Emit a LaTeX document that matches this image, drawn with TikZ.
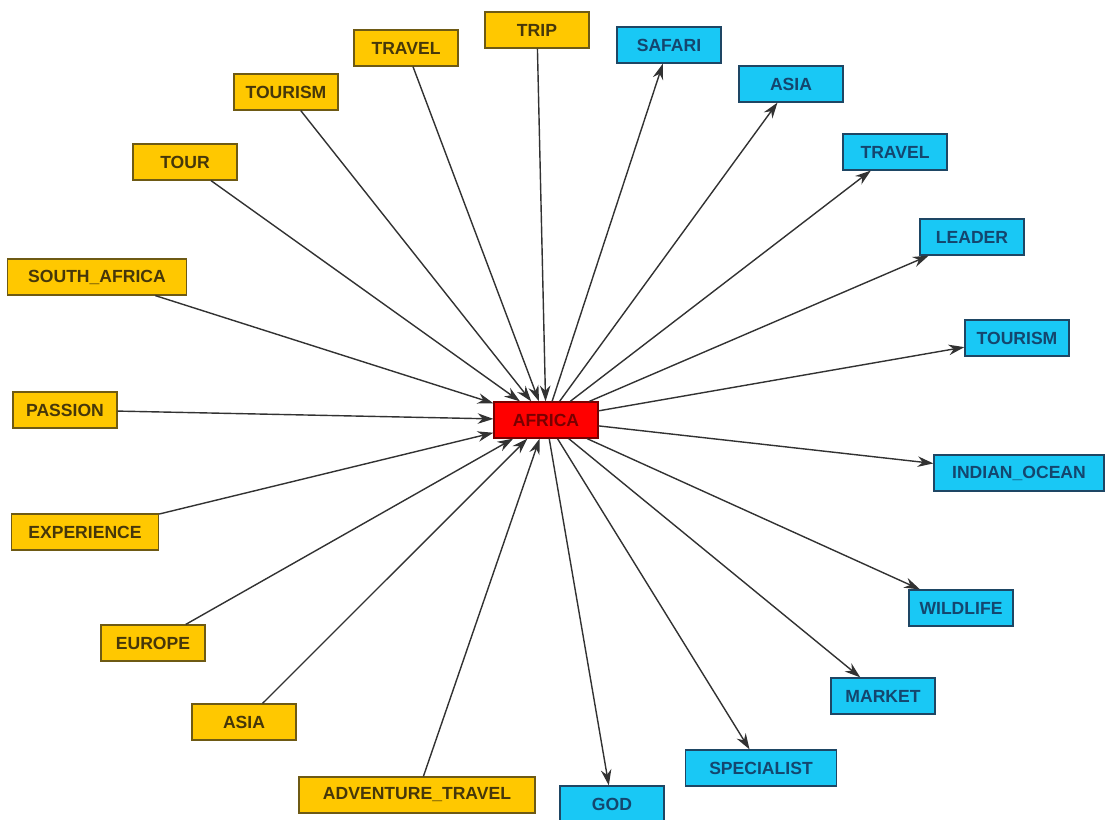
\documentclass[tikz,border=0pt]{standalone}
\usepackage{fontspec}
\setmainfont{Liberation Sans}
\usetikzlibrary{arrows,arrows.meta}

\definecolor{ygold}{RGB}{255,200,0}
\definecolor{yedge}{RGB}{110,90,20}
\definecolor{ytext}{RGB}{70,55,10}
\definecolor{bsky}{RGB}{25,200,245}
\definecolor{bedge}{RGB}{30,70,100}
\definecolor{btext}{RGB}{20,70,110}
\definecolor{rtext}{RGB}{120,0,0}
\definecolor{lgray}{RGB}{50,50,50}

\begin{document}
\begin{tikzpicture}[x=0.02cm, y=-0.02cm,
  box/.style={rectangle, draw, line width=0.7pt, minimum width=2.08cm, minimum height=0.72cm,
    inner xsep=0.2cm, font=\fontsize{10}{12}\selectfont\bfseries},
  from/.style={box, fill=ygold, draw=yedge, text=ytext},
  to/.style={box, fill=bsky, draw=bedge, text=btext},
  hub/.style={box, fill=red, draw=rtext, text=rtext},
  link/.style={draw=lgray, line width=0.8pt, -{Stealth[length=9pt,width=6pt]}}]

  \useasboundingbox (0,0) rectangle (1105,820);

  % centre
  \node[hub] (africa) at (546,420) {AFRICA};

  % words pointing in
  \node[from] (trip) at (537,30) {TRIP};
  \node[from] (travelA) at (406,48) {TRAVEL};
  \node[from] (tourismA) at (286,92) {TOURISM};
  \node[from] (tour) at (185,162) {TOUR};
  \node[from, minimum width=3.58cm] (southafrica) at (97,277) {SOUTH\_AFRICA};
  \node[from] (passion) at (65,410) {PASSION};
  \node[from, minimum width=2.94cm] (experience) at (85,532) {EXPERIENCE};
  \node[from] (europe) at (153,643) {EUROPE};
  \node[from] (asiaA) at (244,722) {ASIA};
  \node[from, minimum width=4.72cm] (adventure) at (417,795) {ADVENTURE\_TRAVEL};

  % words pointing out
  \node[to] (safari) at (669,45) {SAFARI};
  \node[to] (asiaB) at (791,84) {ASIA};
  \node[to] (travelB) at (895,152) {TRAVEL};
  \node[to] (leader) at (972,237) {LEADER};
  \node[to] (tourismB) at (1017,338) {TOURISM};
  \node[to, minimum width=3.4cm] (indianocean) at (1019,473) {INDIAN\_OCEAN};
  \node[to] (wildlife) at (961,608) {WILDLIFE};
  \node[to] (market) at (883,696) {MARKET};
  \node[to, minimum width=3.02cm] (specialist) at (761,768) {SPECIALIST};
  \node[to] (god) at (612,804) {GOD};

  \foreach \n in {trip,travelA,tourismA,tour,southafrica,passion,experience,europe,asiaA,adventure}
    \draw[link] (\n) -- (africa);
  \foreach \n in {safari,asiaB,travelB,leader,tourismB,indianocean,wildlife,market,specialist,god}
    \draw[link] (africa) -- (\n);

\end{tikzpicture}
\end{document}
